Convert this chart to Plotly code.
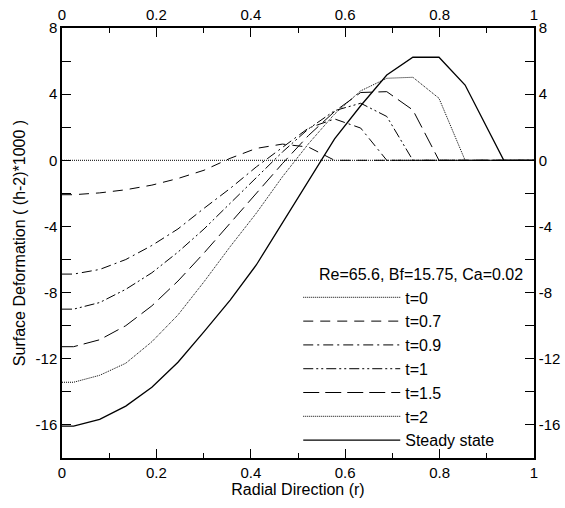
import plotly.graph_objects as go

# radial grid (r=0, cell points, r=1)
r = [0, 0.0245, 0.0798, 0.1351, 0.1904, 0.2457, 0.301, 0.3563, 0.4116, 0.4669,
     0.5222, 0.5775, 0.6328, 0.6881, 0.7434, 0.7987, 0.854, 0.9093, 0.9646, 1.0]
# steady-state front reaches zero between grid points
r_steady = [0, 0.0245, 0.0798, 0.1351, 0.1904, 0.2457, 0.301, 0.3563, 0.4116, 0.4669,
            0.5222, 0.5775, 0.6328, 0.6881, 0.7434, 0.7987, 0.854, 0.9093, 0.936, 1.0]

t_0 = [0] * 20
t_07 = [-2.08, -2.08, -1.97, -1.78, -1.5, -1.1, -0.6, 0.12, 0.72, 0.98, 0.8, 0,
        0, 0, 0, 0, 0, 0, 0, 0]
t_09 = [-6.88, -6.88, -6.6, -6.0, -5.15, -4.15, -2.9, -1.7, -0.4, 0.8, 1.95, 2.5,
        1.95, 0, 0, 0, 0, 0, 0, 0]
t_1 = [-9.0, -9.0, -8.6, -7.8, -6.8, -5.55, -4.15, -2.6, -1.0, 0.5, 1.9, 3.0,
       3.45, 2.65, 0, 0, 0, 0, 0, 0]
t_15 = [-11.27, -11.27, -10.85, -10.0, -8.8, -7.3, -5.6, -3.8, -2.0, -0.2, 1.5, 2.95,
        4.1, 4.15, 3.04, 0, 0, 0, 0, 0]
t_2 = [-13.42, -13.42, -13.0, -12.27, -10.97, -9.35, -7.34, -5.22, -3.2, -1.0, 1.0, 2.8,
       4.2, 4.96, 5.02, 3.75, 0, 0, 0, 0]
steady = [-16.07, -16.07, -15.66, -14.86, -13.72, -12.21, -10.36, -8.45, -6.33, -3.8, -1.2, 1.3,
          3.3, 5.16, 6.23, 6.23, 4.55, 1.5, 0, 0]

names = ["t=0", "t=0.7", "t=0.9", "t=1", "t=1.5", "t=2", "Steady state"]
xs = [r, r, r, r, r, r, r_steady]
series = [t_0, t_07, t_09, t_1, t_15, t_2, steady]
dashes = ["1px,1px", "10px,7px", "10px,4px,2px,4px", "10px,3px,2px,3px,2px,3px",
          "16px,6px", "1px,1px", "solid"]
widths = [1, 1, 1, 1, 1, 1, 1.3]

x_ticks = [0, 0.2, 0.4, 0.6, 0.8, 1]
x_ticktext = ["0", "0.2", "0.4", "0.6", "0.8", "1"]
y_ticks = [-16, -12, -8, -4, 0, 4, 8]
y_ticktext = ["-16", "-12", "-8", "-4", "0", "4", "8"]

FONT = "Liberation Sans, Arial, Helvetica, sans-serif"

fig = go.Figure()
for name, xv, ys, d, w in zip(names, xs, series, dashes, widths):
    fig.add_trace(go.Scatter(x=xv, y=ys, mode="lines", name=name,
                             line=dict(color="black", width=w, dash=d)))
# invisible trace so the mirrored top/right axes are drawn
fig.add_trace(go.Scatter(x=r_steady, y=steady, xaxis="x2", yaxis="y2", mode="lines",
                         opacity=0, showlegend=False, hoverinfo="skip",
                         line=dict(color="black", width=1)))

axis_common = dict(showgrid=False, zeroline=False, showline=True, linecolor="black",
                   linewidth=1.5, ticks="inside", tickcolor="black", ticklen=9,
                   tickwidth=1.2, automargin=False,
                   tickfont=dict(family=FONT, size=15, color="black"))

fig.update_layout(
    width=565, height=508,
    margin=dict(l=62, r=31, t=28, b=50),
    paper_bgcolor="white", plot_bgcolor="white",
    font=dict(family=FONT, size=16, color="black"),
    showlegend=True,
    legend=dict(x=0.5005, y=0.413, xanchor="left", yanchor="top",
                bgcolor="rgba(0,0,0,0)", font=dict(family=FONT, size=16),
                itemwidth=97, tracegroupgap=0),
    xaxis=dict(range=[0, 1], tickvals=x_ticks, ticktext=x_ticktext,
               minor=dict(dtick=0.1, ticks="inside", ticklen=5, tickcolor="black"),
               title=dict(text="Radial Direction (r)", standoff=2,
                          font=dict(family=FONT, size=16)),
               **axis_common),
    xaxis2=dict(range=[0, 1], overlaying="x", side="top", tickvals=x_ticks,
                ticktext=x_ticktext,
                minor=dict(dtick=0.1, ticks="inside", ticklen=5, tickcolor="black"),
                **axis_common),
    yaxis=dict(range=[-18, 8], tickvals=y_ticks, ticktext=y_ticktext,
               minor=dict(dtick=2, ticks="inside", ticklen=9, tickcolor="black"),
               title=dict(text="Surface Deformation ( (h-2)*1000 )", standoff=6,
                          font=dict(family=FONT, size=16)),
               **axis_common),
    yaxis2=dict(range=[-18, 8], overlaying="y", side="right", tickvals=y_ticks,
                ticktext=y_ticktext,
                minor=dict(dtick=2, ticks="inside", ticklen=9, tickcolor="black"),
                **axis_common),
    annotations=[dict(text="Re=65.6, Bf=15.75, Ca=0.02", xref="paper", yref="paper",
                      x=0.7606, y=0.4256, xanchor="center", yanchor="middle",
                      showarrow=False, font=dict(family=FONT, size=16, color="black"))],
)

fig.write_html("out.html", config={"displayModeBar": False},
               post_script="document.body.style.margin='0';document.body.style.padding='0';")
